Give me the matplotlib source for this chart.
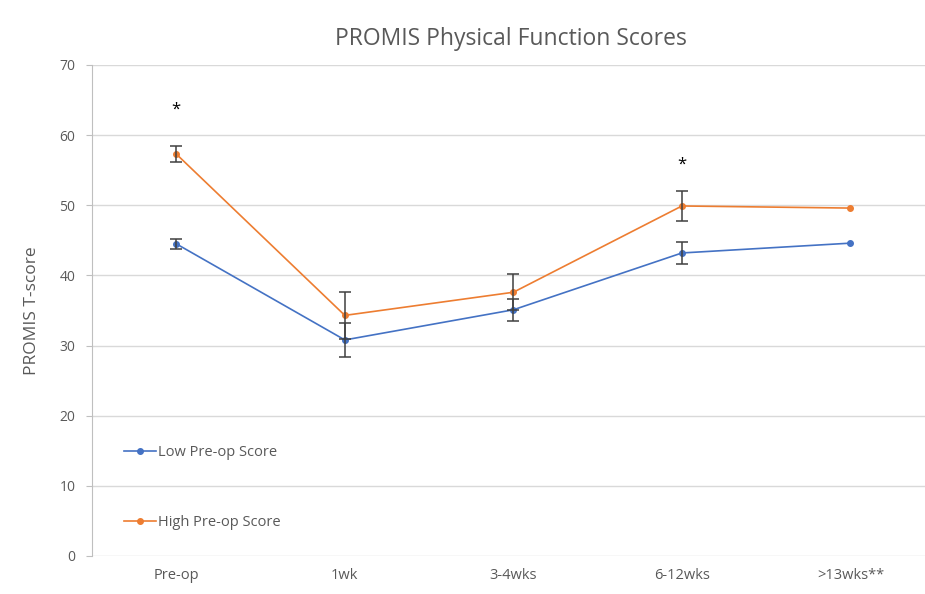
import matplotlib.pyplot as plt
import numpy as np

plt.rcParams['font.family'] = ['Open Sans', 'DejaVu Sans']

categories = ['Pre-op', '1wk', '3-4wks', '6-12wks', '>13wks**']
low_scores = [44.5, 30.8, 35.1, 43.2, 44.6]
low_err = [0.7, 2.4, 1.6, 1.6, 0.0]
high_scores = [57.3, 34.3, 37.6, 49.9, 49.6]
high_err = [1.2, 3.3, 2.6, 2.2, 0.0]
sig_marks = [(0, 63.6), (3, 55.8)]

blue = '#4472C4'
orange = '#ED7D31'
grid_grey = '#D9D9D9'
text_grey = '#595959'

fig = plt.figure(figsize=(9.25, 5.94), dpi=100)
ax = fig.add_axes([0.0995, 0.064, 0.911, 0.8266])

x = np.arange(len(categories))

ax.plot(x, low_scores, color=blue, lw=1.2, marker='o', ms=4,
        label='Low Pre-op Score', zorder=3)
ax.plot(x, high_scores, color=orange, lw=1.2, marker='o', ms=4,
        label='High Pre-op Score', zorder=3)

# error bars (none at the last point)
for vals, errs in [(low_scores, low_err), (high_scores, high_err)]:
    idx = [i for i, e in enumerate(errs) if e > 0]
    ax.errorbar(x[idx], [vals[i] for i in idx], yerr=[errs[i] for i in idx],
                fmt='none', ecolor='#404040', elinewidth=1.1, capsize=4,
                capthick=1.1, zorder=4)

for xi, yi in sig_marks:
    ax.text(xi, yi, '*', ha='center', va='center', fontsize=12, color='black')

ax.set_xlim(-0.5, 4.5)
ax.set_ylim(0, 70)
ax.set_yticks(range(0, 71, 10))
ax.set_xticks(x)
ax.set_xticklabels(categories)
ax.yaxis.grid(True, color=grid_grey, lw=1)
ax.set_axisbelow(True)

for side in ['top', 'right', 'bottom']:
    ax.spines[side].set_visible(False)
ax.spines['left'].set_color('#BFBFBF')
ax.tick_params(axis='y', colors='#BFBFBF', length=4, labelcolor=text_grey,
               labelsize=10, pad=8)
ax.tick_params(axis='x', length=0, labelcolor=text_grey, labelsize=10.5, pad=9)

ax.set_ylabel('PROMIS T-score', color=text_grey, fontsize=12.5, labelpad=14)
fig.text(0.552, 0.935, 'PROMIS Physical Function Scores', ha='center',
         va='center', fontsize=16.5, color=text_grey)

ax.legend(loc='upper left', bbox_to_anchor=(0.038, 0.226), frameon=False,
          borderpad=0, borderaxespad=0,
          labelspacing=3.75, handlelength=2.2, handletextpad=0.1,
          fontsize=10.5, labelcolor=text_grey)

fig.savefig('out.png', dpi=100)
